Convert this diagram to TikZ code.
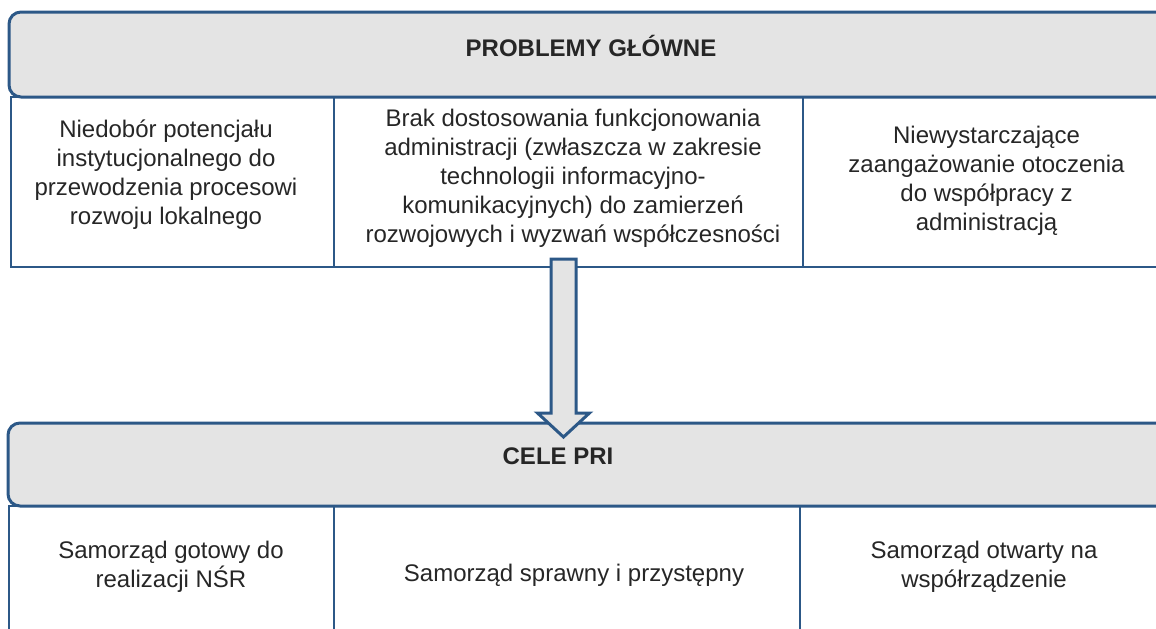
\documentclass[tikz,border=0pt]{standalone}
\usepackage{fontspec}
\setmainfont{Liberation Sans}
\usetikzlibrary{calc}
\definecolor{lineblue}{RGB}{44,88,135}
\definecolor{hdrgray}{RGB}{228,228,228}
\definecolor{txtgray}{RGB}{38,38,38}
\begin{document}
\begin{tikzpicture}[x=0.75pt,y=-0.75pt,
  txt/.style={font=\fontsize{18}{21.75}\selectfont, text=txtgray, align=center, inner sep=0pt},
  title/.style={font=\fontsize{18}{21.75}\selectfont\bfseries, text=txtgray, inner sep=0pt},
  hdr/.style={draw=lineblue, line width=2.25pt, fill=hdrgray, rounded corners=9pt, inner sep=0pt},
  cell/.style={draw=lineblue, line width=2pt, inner sep=0pt},
  blockarrow/.style={draw=lineblue, line width=2.25pt, fill=hdrgray, line join=miter}]
\useasboundingbox (0,0) rectangle (1156,628);
\clip (0,0) rectangle (1156,628);
% top table
\node[cell, minimum width=242.25pt, minimum height=127.5pt] (c1) at (172.5,182) {};
\node[cell, minimum width=351.75pt, minimum height=127.5pt] (c2) at (568.5,182) {};
\node[cell, minimum width=282.75pt, minimum height=127.5pt] (c3) at (991.5,182) {};
\node[hdr, minimum width=878.25pt, minimum height=63.75pt] (h1) at (594.5,54.5) {};
\node[title] (h1t) at (591,46) {PROBLEMY GŁÓWNE};
\node[txt] (t1) at (166,175) {Niedobór potencjału\\instytucjonalnego do\\przewodzenia procesowi\\rozwoju lokalnego};
\node[txt] (t2) at (573,178) {Brak dostosowania funkcjonowania\\administracji (zwłaszcza w zakresie\\technologii informacyjno-\\komunikacyjnych) do zamierzeń\\rozwojowych i wyzwań współczesności};
\node[txt] (t3) at (986.5,181) {Niewystarczające\\zaangażowanie otoczenia\\do współpracy z\\administracją};
% bottom table
\node[cell, minimum width=243.75pt, minimum height=115.5pt] (d1) at (171.5,583) {};
\node[cell, minimum width=349.5pt, minimum height=115.5pt] (d2) at (567,583) {};
\node[cell, minimum width=285pt, minimum height=115.5pt] (d3) at (990,583) {};
\node[hdr, minimum width=879pt, minimum height=62.25pt] (h2) at (594,464.5) {};
\node[title] (h2t) at (558,456) {CELE PRI};
\node[txt] (u1) at (171,567) {Samorząd gotowy do\\realizacji NŚR};
\node[txt] (u2) at (574,575) {Samorząd sprawny i przystępny};
\node[txt] (u3) at (984,567) {Samorząd otwarty na\\współrządzenie};
% block arrow from problems to goals
\coordinate (atop) at (563.5,259);
\coordinate (atip) at (563.5,437);
\draw[blockarrow] ($(atop)+(-12.5,0)$) -- ($(atop)+(12.5,0)$)
  -- ($(atip)+(12.5,-24)$) -- ($(atip)+(26,-24)$) -- (atip)
  -- ($(atip)+(-26,-24)$) -- ($(atip)+(-12.5,-24)$) -- cycle;
\end{tikzpicture}
\end{document}
